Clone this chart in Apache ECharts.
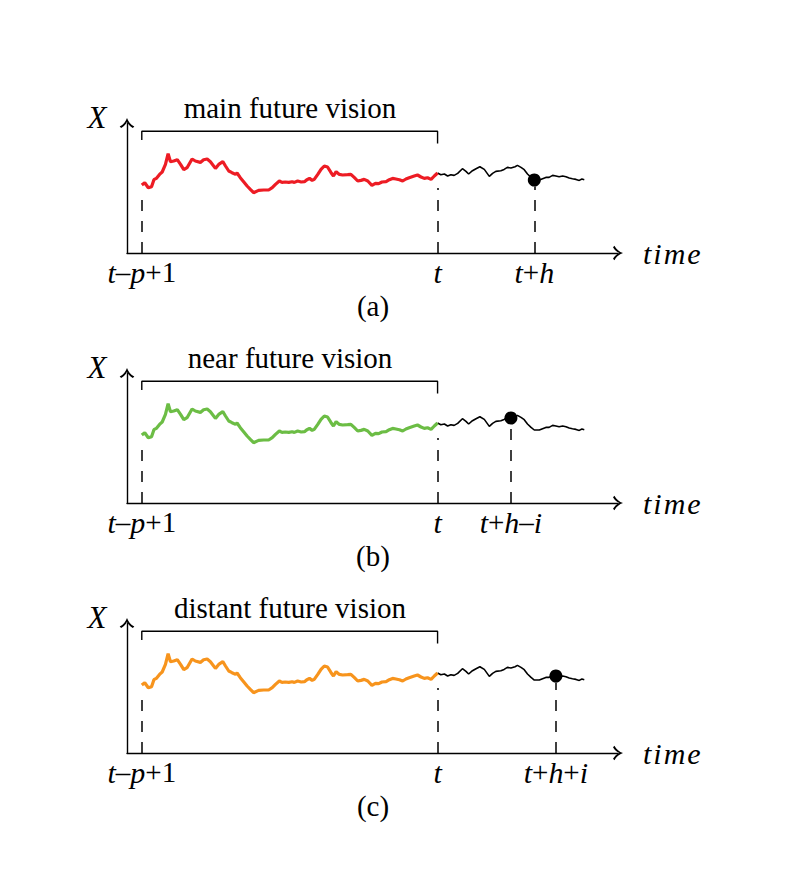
<!DOCTYPE html>
<html>
<head>
<meta charset="utf-8">
<script src="https://cdn.jsdelivr.net/npm/echarts@6/dist/echarts.min.js"></script>
<style>
html, body { margin: 0; padding: 0; background: #fff; }
#main { width: 789px; height: 895px; }
</style>
</head>
<body>
<div id="main"></div>
<script>
// observed window, from t-p+1 (time 0) to t (time 100)
const pastTime = [0, 1.0, 2.2, 3.3, 4.1, 4.9, 6.0, 6.9, 8.0, 8.9, 9.7, 10.8, 12.0, 13.1, 14.2, 15.3,
  17.0, 18.1, 19.8, 20.9, 22.1, 23.2, 24.9, 26.0, 27.4, 28.3, 29.4, 30.5, 31.7, 32.2, 33.3, 34.5,
  35.6, 36.7, 37.8, 39.5, 41.2, 42.9, 44.1, 45.2, 46.5, 47.4, 48.5, 49.7, 50.8, 51.6, 52.7, 53.9,
  55.0, 55.7, 56.7, 57.6, 58.3, 59.5, 60.6, 61.7, 62.8, 64.0, 64.8, 65.7, 66.8, 67.9, 69.6, 70.7,
  71.9, 73.0, 74.1, 75.2, 76.4, 77.8, 79.0, 80.1, 81.2, 82.6, 83.7, 84.8, 85.9, 87.1, 88.2, 89.3,
  90.4, 92.1, 93.2, 94.4, 95.5, 96.6, 97.8, 98.9, 100];
const pastValue = [6.80, 7.03, 6.53, 6.63, 7.33, 7.46, 7.86, 8.10, 8.86, 9.93, 9.13, 9.20, 9.33, 8.86, 8.33, 8.53,
  9.40, 9.20, 9.06, 9.33, 9.40, 9.13, 8.46, 8.86, 9.13, 8.70, 8.20, 8.03, 7.86, 8.00, 7.53, 7.10,
  6.70, 6.36, 6.03, 6.26, 6.30, 6.30, 6.53, 6.86, 7.20, 7.06, 7.10, 7.06, 7.13, 7.06, 7.20, 7.10,
  7.13, 7.30, 7.46, 7.26, 7.36, 7.86, 8.36, 8.70, 8.60, 8.03, 7.70, 8.13, 7.86, 7.80, 7.83, 7.86,
  7.53, 7.20, 7.26, 7.36, 7.20, 6.76, 6.96, 6.93, 7.10, 7.13, 7.33, 7.46, 7.40, 7.33, 7.20, 7.40,
  7.53, 7.70, 7.80, 7.60, 7.46, 7.53, 7.36, 7.70, 8.00];

// what follows after t
const futureTime = [100, 101.1, 102.3, 103.4, 104.5, 105.6, 106.8, 108.4, 109.6, 110.5, 111.8, 113.0,
  114.3, 115.8, 117.5, 118.6, 119.7, 121.4, 122.5, 123.6, 124.8, 126.2, 127.0, 128.2, 129.3, 130.4,
  131.6, 132.7, 134.4, 135.5, 136.6, 137.7, 138.9, 140.0, 141.1, 142.3, 143.4, 144.5, 145.6, 146.8,
  147.9, 148.8, 149.6];
const futureValue = [8.00, 7.83, 7.90, 7.70, 7.83, 7.76, 7.96, 8.43, 8.16, 7.90, 8.23, 8.43,
  8.63, 8.36, 7.66, 7.96, 8.16, 8.23, 8.36, 8.56, 8.50, 8.63, 8.76, 8.56, 8.33, 7.90,
  7.56, 7.30, 7.30, 7.43, 7.56, 7.56, 7.76, 7.70, 7.63, 7.70, 7.63, 7.50, 7.43, 7.36,
  7.26, 7.40, 7.33];

const panelNames = ['main future vision', 'near future vision', 'distant future vision'];
const panelTags = ['(a)', '(b)', '(c)'];
const targetTime = [132.7, 124.8, 140.0];   // t+h, t+h-i, t+h+i
const tickTime = [0, 100];
const tickLabels = [
  ['{i|t}–{i|p}+1', '{i|t}', '{i|t}+{i|h}'],
  ['{i|t}–{i|p}+1', '{i|t}', '{i|t}+{i|h}–{i|i}'],
  ['{i|t}–{i|p}+1', '{i|t}', '{i|t}+{i|h}+{i|i}']
];

const colors = ['#ed1c24', '#6cbd45', '#f7941d'];
const serif = 'Liberation Serif';
const arrow = 'path://M6,0 C7,3 9,5.5 12,7 L10.8,8.2 C8.5,6.8 7,5.3 6,3 C5,5.3 3.5,6.8 1.2,8.2 L0,7 C3,5.5 5,3 6,0 Z';
const mathStyle = { fontFamily: serif, fontStyle: 'italic', fontSize: 30, color: '#000' };
const spacedMath = { fontFamily: serif, fontStyle: 'italic', fontSize: 30, color: '#000', padding: [0, 1] };

const grids = [], xAxes = [], yAxes = [], series = [], graphics = [];

panelNames.forEach(function (name, k) {
    const top = 123 + 250 * k;
    const hx = targetTime[k];
    const hy = futureValue[futureTime.indexOf(hx)];
    const labelVals = tickTime.concat([hx]);

    grids.push({ left: 127, top: top, width: 491, height: 130 });

    xAxes.push({
        type: 'value', gridIndex: k, min: -5, max: 161,
        splitLine: { show: false },
        axisTick: { show: false },
        axisLine: { onZero: false, symbol: ['none', arrow], symbolSize: [16, 10],
            lineStyle: { color: '#000', width: 1.4 } },
        axisLabel: {
            customValues: labelVals,
            formatter: function (v) { return tickLabels[k][labelVals.indexOf(v)]; },
            margin: 4, color: '#000', fontFamily: serif, fontSize: 29,
            rich: { i: mathStyle }
        },
        name: '{m|t}{m|i}{m|m}{m|e}', nameLocation: 'end', nameGap: 24,
        nameTextStyle: { rich: { m: spacedMath } }
    });

    yAxes.push({
        type: 'value', gridIndex: k, min: 0, max: 13,
        splitLine: { show: false },
        axisTick: { show: false },
        axisLabel: { show: false },
        axisLine: { onZero: false, symbol: ['none', arrow], symbolSize: [16, 10],
            lineStyle: { color: '#000', width: 1.4 } }
    });

    // bracket over the observed window, with the dashed guides
    series.push({
        type: 'line', xAxisIndex: k, yAxisIndex: k,
        data: [[0, 11.3], [0, 12.18], [100, 12.18], [100, 10.95]],
        symbol: 'none', silent: true,
        lineStyle: { color: '#000', width: 1.4 },
        markLine: {
            silent: true, symbol: ['none', 'none'],
            label: { show: false },
            lineStyle: { color: '#000', width: 1.5, type: [11, 10] },
            data: [
                [{ coord: [0, 0] }, { coord: [0, 6.3] }],
                [{ coord: [100, 0] }, { coord: [100, 6.5] }],
                [{ coord: [hx, 0] }, { coord: [hx, hy - 0.65] }]
            ]
        }
    });

    series.push({
        type: 'line', xAxisIndex: k, yAxisIndex: k,
        data: pastTime.map(function (t, i) { return [t, pastValue[i]]; }),
        symbol: 'none', z: 4,
        lineStyle: { color: colors[k], width: 3.2 }
    });

    series.push({
        type: 'line', xAxisIndex: k, yAxisIndex: k,
        data: futureTime.map(function (t, i) { return [t, futureValue[i]]; }),
        symbol: 'none', z: 3,
        lineStyle: { color: '#000', width: 1.6 }
    });

    series.push({
        type: 'scatter', xAxisIndex: k, yAxisIndex: k,
        data: [[hx, hy]], symbolSize: 13, z: 5,
        itemStyle: { color: '#000', opacity: 1 }
    });

    graphics.push({
        type: 'text', x: 290, y: 108 + 250 * k,
        style: { text: name, font: '29px "Liberation Serif"', fill: '#000', align: 'center', verticalAlign: 'middle' }
    });
    graphics.push({
        type: 'text', x: 97, y: 117 + 250 * k,
        style: { text: 'X', font: 'italic 31px "Liberation Serif"', fill: '#000', align: 'center', verticalAlign: 'middle' }
    });
    graphics.push({
        type: 'text', x: 373, y: 306 + 250 * k,
        style: { text: panelTags[k], font: '29px "Liberation Serif"', fill: '#000', align: 'center', verticalAlign: 'middle' }
    });
});

const chart = echarts.init(document.getElementById('main'), null, { renderer: 'svg' });
chart.setOption({
    animation: false,
    backgroundColor: '#fff',
    grid: grids,
    xAxis: xAxes,
    yAxis: yAxes,
    series: series,
    graphic: graphics
});
</script>
</body>
</html>
